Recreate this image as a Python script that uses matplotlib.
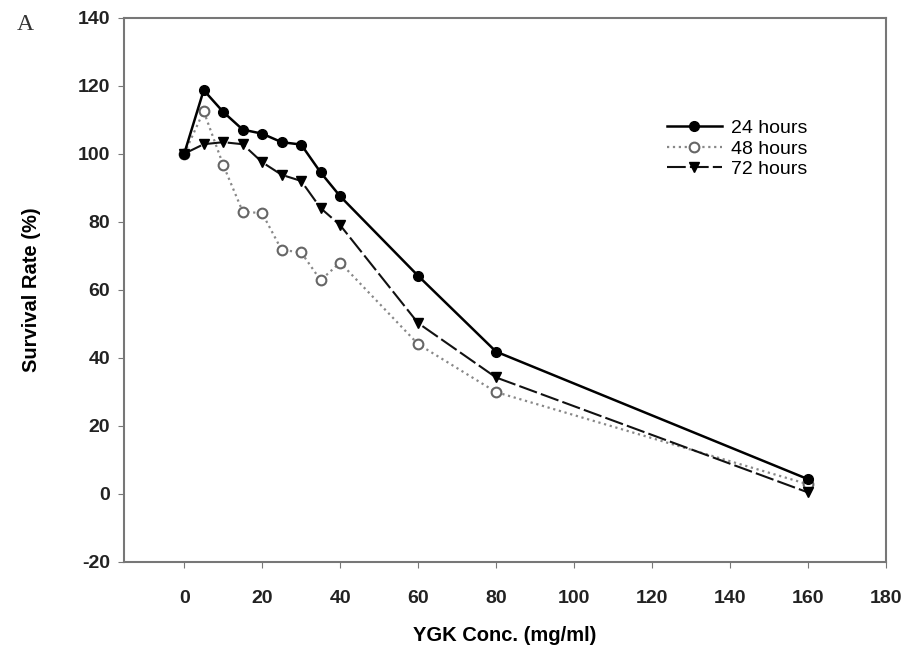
import numpy as np
import matplotlib.pyplot as plt

conc = [0, 5, 10, 15, 20, 25, 30, 35, 40, 60, 80, 160]
surv_24h = [100, 118.7, 112.3, 107.1, 105.9, 103.4, 102.7, 94.5, 87.5, 64.1, 41.8, 4.3]
surv_48h = [100, 112.5, 96.7, 83.0, 82.5, 71.7, 71.0, 62.8, 68.0, 44.0, 29.9, 2.8]
surv_72h = [100, 102.8, 103.4, 102.8, 97.5, 93.8, 92.0, 84.0, 79.0, 50.2, 34.2, 0.4]
series_names = ['24 hours', '48 hours', '72 hours']
x_ticks = [0, 20, 40, 60, 80, 100, 120, 140, 160, 180]
y_ticks = [-20, 0, 20, 40, 60, 80, 100, 120, 140]

plt.rcParams['font.family'] = ['Liberation Sans', 'DejaVu Sans']
plt.rcParams['axes.unicode_minus'] = False

fig = plt.figure(figsize=(9.17, 6.57), dpi=100)
ax = fig.add_axes([0.135, 0.145, 0.831, 0.828])

ax.plot(conc, surv_24h, color='black', lw=1.8, marker='o', ms=7,
        mfc='black', mec='black', label=series_names[0], zorder=4)
ax.plot(conc, surv_48h, color='#888888', lw=1.6, ls=':', marker='o', ms=7,
        mfc='white', mec='#666666', mew=1.5, label=series_names[1], zorder=3)
ax.plot(conc, surv_72h, color='#111111', lw=1.5, dashes=(9, 2), marker='v', ms=7,
        mfc='black', mec='black', label=series_names[2], zorder=3)

ax.set_xlim(-15.5, 180)
ax.set_ylim(-20, 140)
ax.set_xticks(x_ticks)
ax.set_yticks(y_ticks)
ax.tick_params(direction='out', length=4, color='#777777', labelsize=14)
ax.tick_params(axis='x', pad=16)
ax.tick_params(axis='y', pad=6)
for lbl in ax.get_xticklabels() + ax.get_yticklabels():
    lbl.set_fontweight('bold')
    lbl.set_color('#222222')
for sp in ax.spines.values():
    sp.set_color('#777777')
    sp.set_linewidth(1.5)

ax.set_xlabel('YGK Conc. (mg/ml)', fontsize=14.5, fontweight='bold', labelpad=14)
ax.set_ylabel('Survival Rate (%)', fontsize=14.5, fontweight='bold', labelpad=26)

leg = ax.legend(loc='upper left', bbox_to_anchor=(0.69, 0.845), frameon=False,
                fontsize=14, handlelength=2.8, handletextpad=0.5, labelspacing=0.15)

fig.text(0.018, 0.955, 'A', fontsize=17, family='Liberation Serif', color='#333333')

fig.savefig('out.png', dpi=100)
